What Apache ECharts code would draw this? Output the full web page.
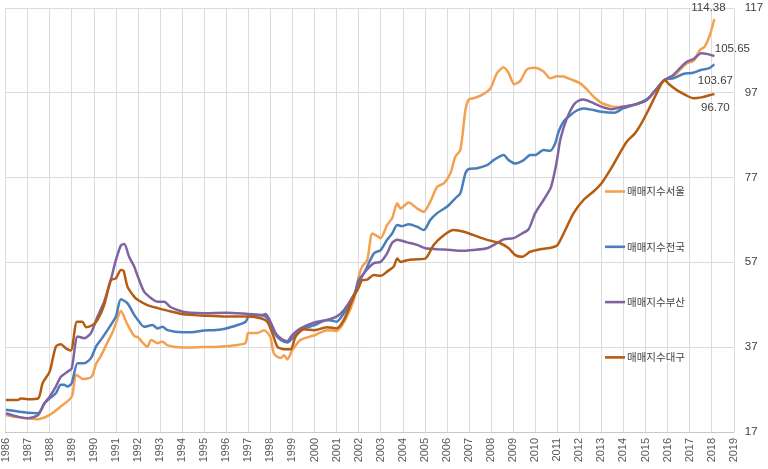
<!DOCTYPE html>
<html>
<head>
<meta charset="utf-8">
<script src="https://cdn.jsdelivr.net/npm/echarts@6/dist/echarts.min.js"></script>
<style>
html,body{margin:0;padding:0;background:#fff;}
#chart{width:768px;height:469px;}
</style>
</head>
<body>
<div id="chart"></div>
<script>
// Series names
const seriesNames = ['매매지수서울', '매매지수전국', '매매지수부산', '매매지수대구'];
// Axis ticks
const yTicks = [17, 37, 57, 77, 97, 117];
const yearMin = 1986, yearMax = 2019;

// [decimal year, index value]
const seoulData = [[1986.02,21.0],[1986.5,20.5],[1987.0,20.2],[1987.48,20.0],[1988.0,21.0],[1988.48,22.9],[1989.0,25.3],[1989.2,30.5],[1989.5,29.5],[1989.9,30.0],[1990.1,33.0],[1990.3,34.7],[1990.6,37.9],[1990.85,40.5],[1991.0,42.6],[1991.23,45.5],[1991.5,42.6],[1991.83,39.6],[1992.0,39.3],[1992.43,37.1],[1992.6,38.7],[1992.9,37.9],[1993.1,38.3],[1993.35,37.4],[1994.0,36.9],[1994.4,36.9],[1995.0,37.0],[1995.45,37.0],[1996.0,37.2],[1996.5,37.5],[1996.88,38.0],[1997.0,40.3],[1997.41,40.3],[1997.71,41.0],[1998.0,39.4],[1998.16,35.5],[1998.47,34.4],[1998.62,35.1],[1998.77,34.1],[1999.0,36.3],[1999.37,38.7],[2000.0,39.8],[2000.58,41.0],[2001.0,40.8],[2001.4,43.5],[2001.78,48.1],[2002.0,53.6],[2002.16,56.0],[2002.39,57.5],[2002.62,63.8],[2002.84,63.2],[2003.0,62.7],[2003.29,65.8],[2003.52,67.4],[2003.75,70.9],[2003.9,69.7],[2004.27,71.1],[2004.65,69.7],[2004.95,68.9],[2005.25,71.3],[2005.56,74.8],[2005.86,75.6],[2006.16,78.0],[2006.38,81.9],[2006.61,83.5],[2006.84,92.9],[2006.99,95.4],[2007.21,95.7],[2007.59,96.5],[2007.97,98.0],[2008.27,101.6],[2008.57,103.0],[2008.8,101.6],[2009.05,99.0],[2009.33,99.8],[2009.63,102.5],[2010.0,102.9],[2010.38,102.0],[2010.68,100.4],[2011.0,100.9],[2011.29,100.8],[2011.59,100.2],[2012.04,99.2],[2012.34,97.8],[2012.64,96.1],[2013.0,94.6],[2013.38,93.9],[2013.68,93.6],[2013.98,93.7],[2014.44,94.1],[2015.06,95.3],[2015.51,97.8],[2015.86,100.0],[2016.26,100.9],[2016.56,102.4],[2016.87,103.9],[2017.17,104.5],[2017.47,107.1],[2017.67,107.8],[2017.89,110.2],[2018.12,114.38]];

const nationData = [[1986.02,22.2],[1987.0,21.5],[1987.48,21.4],[1987.76,23.7],[1988.0,24.9],[1988.28,26.1],[1988.51,28.1],[1988.66,28.1],[1988.81,27.7],[1989.0,28.5],[1989.27,33.2],[1989.57,33.2],[1989.87,34.4],[1990.1,37.1],[1990.32,38.7],[1990.62,41.0],[1991.0,44.2],[1991.23,48.3],[1991.53,47.3],[1991.83,44.6],[1992.0,43.4],[1992.28,41.8],[1992.66,42.2],[1992.89,41.4],[1993.11,41.8],[1993.34,41.0],[1994.0,40.5],[1994.39,40.5],[1995.0,40.9],[1995.45,41.0],[1996.0,41.4],[1996.51,42.2],[1996.88,43.0],[1997.03,44.3],[1997.41,44.5],[1997.79,44.2],[1998.0,42.6],[1998.24,39.9],[1998.47,38.7],[1998.77,38.1],[1999.0,39.1],[1999.37,41.0],[2000.0,42.2],[2000.58,43.4],[2001.0,43.0],[2001.33,45.0],[2001.78,48.9],[2002.0,52.8],[2002.24,54.4],[2002.69,59.1],[2003.0,59.9],[2003.29,62.3],[2003.52,63.8],[2003.75,65.8],[2003.97,65.5],[2004.27,66.0],[2004.65,65.4],[2004.95,64.6],[2005.25,67.0],[2005.56,68.6],[2006.0,70.1],[2006.38,72.1],[2006.61,73.3],[2006.84,78.0],[2006.99,79.0],[2007.37,79.2],[2007.82,79.9],[2008.12,81.1],[2008.57,82.3],[2008.8,81.1],[2009.1,80.3],[2009.48,81.1],[2009.78,82.3],[2010.0,82.3],[2010.38,83.5],[2010.68,83.3],[2010.91,85.1],[2011.06,87.8],[2011.29,90.2],[2011.59,91.7],[2011.89,92.8],[2012.19,93.3],[2012.64,92.9],[2013.0,92.5],[2013.6,92.3],[2013.98,93.3],[2014.59,94.3],[2015.06,95.3],[2015.51,98.0],[2015.86,100.0],[2016.26,100.4],[2016.71,101.4],[2017.17,101.7],[2017.53,102.4],[2017.89,102.8],[2018.12,103.67]];

const busanData = [[1986.02,21.4],[1986.55,20.6],[1987.0,20.2],[1987.48,21.0],[1987.76,23.7],[1988.0,25.3],[1988.28,27.7],[1988.51,30.0],[1988.81,31.2],[1989.0,32.0],[1989.27,39.5],[1989.57,39.1],[1989.87,40.3],[1990.17,44.2],[1990.47,47.7],[1990.77,52.8],[1991.0,57.5],[1991.23,61.0],[1991.38,61.3],[1991.6,58.3],[1991.83,56.0],[1992.0,53.6],[1992.28,50.1],[1992.66,48.3],[1992.89,47.7],[1993.19,47.7],[1993.49,46.4],[1994.0,45.4],[1994.39,45.1],[1995.0,45.0],[1996.0,45.1],[1997.0,44.8],[1997.64,44.6],[1997.79,44.8],[1998.0,43.0],[1998.24,40.3],[1998.47,39.1],[1998.77,38.4],[1999.0,39.9],[1999.37,41.4],[2000.0,42.8],[2000.58,43.4],[2001.0,44.2],[2001.33,45.7],[2001.78,49.3],[2002.0,52.0],[2002.24,54.4],[2002.69,56.8],[2003.0,57.1],[2003.29,59.1],[2003.52,61.6],[2003.75,62.3],[2004.2,61.7],[2004.65,61.1],[2005.03,60.3],[2005.56,60.1],[2006.16,59.9],[2006.61,59.7],[2007.21,59.9],[2007.82,60.3],[2008.27,61.5],[2008.57,62.4],[2009.02,62.7],[2009.4,63.8],[2009.7,64.8],[2010.0,68.6],[2010.38,71.7],[2010.7,74.5],[2010.85,77.5],[2011.0,81.5],[2011.14,86.0],[2011.44,91.0],[2011.74,94.1],[2011.96,95.1],[2012.19,95.4],[2012.49,94.9],[2013.0,93.7],[2013.45,93.1],[2013.98,93.7],[2014.59,94.3],[2015.13,95.7],[2015.51,98.0],[2015.86,100.0],[2016.26,101.2],[2016.56,102.8],[2016.87,104.3],[2017.17,104.9],[2017.53,106.3],[2017.82,106.1],[2018.12,105.65]];

const daeguData = [[1986.02,24.5],[1986.55,24.5],[1986.7,24.9],[1987.0,24.7],[1987.48,24.9],[1987.68,28.5],[1988.0,31.2],[1988.28,37.1],[1988.51,37.7],[1988.74,36.7],[1988.96,36.2],[1989.24,43.0],[1989.49,43.0],[1989.64,41.7],[1989.95,42.2],[1990.17,43.4],[1990.47,46.9],[1990.77,52.8],[1991.0,53.2],[1991.23,55.2],[1991.35,55.0],[1991.53,51.2],[1991.83,48.9],[1992.0,48.1],[1992.43,46.9],[1992.89,46.2],[1993.34,45.6],[1994.0,44.8],[1994.39,44.6],[1995.0,44.4],[1996.0,44.2],[1997.0,44.2],[1997.56,43.8],[1997.86,43.0],[1998.09,40.3],[1998.32,37.1],[1998.62,36.5],[1998.92,36.5],[1999.14,39.4],[1999.52,41.2],[2000.0,41.0],[2000.58,41.7],[2001.0,41.4],[2001.33,43.4],[2001.78,48.9],[2002.0,51.0],[2002.16,52.8],[2002.39,52.9],[2002.69,54.0],[2003.0,53.8],[2003.29,54.8],[2003.59,56.0],[2003.75,57.9],[2003.9,57.1],[2004.2,57.5],[2004.65,57.7],[2005.03,57.9],[2005.4,61.1],[2005.86,63.4],[2006.31,64.6],[2006.76,64.2],[2007.21,63.4],[2007.82,62.3],[2008.42,61.5],[2008.8,60.3],[2009.1,58.7],[2009.4,58.3],[2009.78,59.5],[2010.23,60.1],[2010.76,60.5],[2011.0,61.0],[2011.29,63.8],[2011.74,68.6],[2012.19,71.7],[2012.64,73.7],[2013.0,75.6],[2013.45,79.2],[2013.83,82.7],[2014.14,85.4],[2014.52,87.4],[2014.82,89.8],[2015.13,92.9],[2015.51,96.9],[2015.86,100.0],[2016.11,98.8],[2016.42,97.6],[2016.87,96.3],[2017.17,95.7],[2017.53,95.9],[2017.89,96.4],[2018.12,96.70]];

const colors = ['#F4A050', '#4A7EBB', '#8064A2', '#B65C10'];
// pixel offsets of the end-value labels from the last point
const endLabelOffsets = [[-6, -11], [1, 16], [18, -7], [1, 14]];

const allData = [seoulData, nationData, busanData, daeguData];

const chart = echarts.init(document.getElementById('chart'), null, {renderer: 'canvas'});
chart.setOption({
  animation: false,
  backgroundColor: '#ffffff',
  grid: {left: 4.5, right: 34.2, top: 7.9, bottom: 37.1, containLabel: false},
  legend: {
    orient: 'vertical',
    left: 600,
    top: 179.5,
    itemWidth: 20,
    itemHeight: 14,
    itemGap: 41.3,
    icon: 'path://M0,6 L20,6 L20,8.6 L0,8.6 Z',
    data: seriesNames,
    textStyle: {color: '#404040', fontSize: 10.5, fontFamily: 'Noto Sans CJK KR', lineHeight: 14, padding: [0, 0, 0, -3]}
  },
  xAxis: {
    type: 'value',
    min: yearMin,
    max: yearMax,
    interval: 1,
    axisLine: {show: true, lineStyle: {color: '#c8c8c8', width: 1}},
    axisTick: {show: false},
    splitLine: {show: true, lineStyle: {color: '#dcdcdc', width: 1}},
    axisLabel: {
      rotate: 90,
      margin: 6,
      color: '#595959',
      fontSize: 11,
      fontFamily: 'Liberation Sans, Arial, sans-serif',
      formatter: (v) => String(Math.round(v))
    }
  },
  yAxis: {
    type: 'value',
    position: 'right',
    min: yTicks[0],
    max: yTicks[yTicks.length - 1],
    axisLine: {show: false},
    axisTick: {show: false, customValues: yTicks},
    splitLine: {show: true, lineStyle: {color: '#dcdcdc', width: 1}},
    axisLabel: {
      customValues: yTicks,
      margin: 11,
      color: '#404040',
      fontSize: 11.5,
      fontFamily: 'Liberation Sans, Arial, sans-serif'
    }
  },
  series: seriesNames.map((name, i) => {
    const d = allData[i];
    const last = d[d.length - 1];
    return {
      name: name,
      type: 'line',
      data: d,
      showSymbol: false,
      symbol: 'none',
      smooth: 0.25,
      lineStyle: {color: colors[i], width: 2.5},
      itemStyle: {color: colors[i]},
      z: 2 + i,
      markPoint: {
        symbol: 'circle',
        symbolSize: 1,
        silent: true,
        itemStyle: {color: 'rgba(0,0,0,0)'},
        label: {
          show: true,
          position: 'inside',
          offset: endLabelOffsets[i],
          formatter: () => last[1].toFixed(2),
          color: '#404040',
          fontSize: 11.5,
          fontFamily: 'Liberation Sans, Arial, sans-serif'
        },
        data: [{coord: last, value: last[1]}]
      }
    };
  })
});
</script>
</body>
</html>
